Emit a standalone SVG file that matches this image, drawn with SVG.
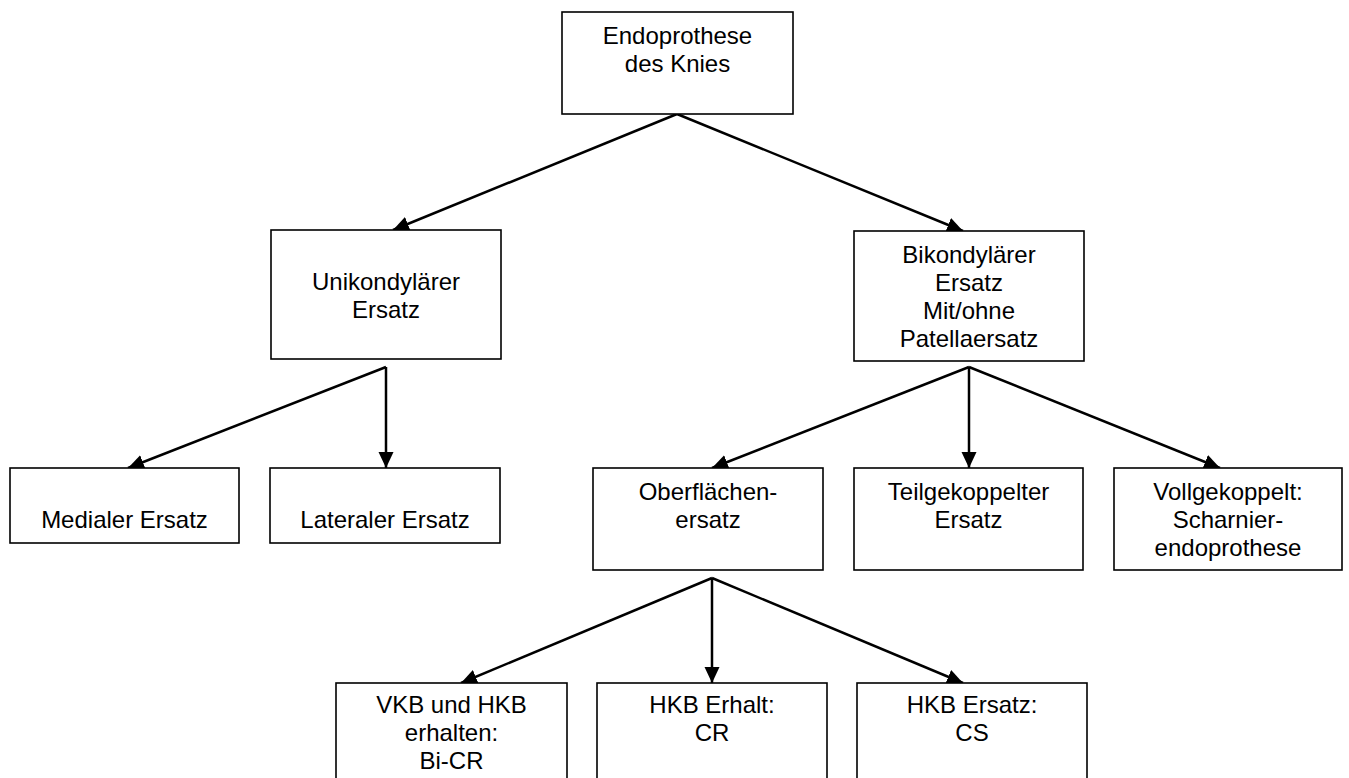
<svg xmlns="http://www.w3.org/2000/svg" width="1349" height="778" viewBox="0 0 1349 778">
<style>
.box{fill:#fff;stroke:#000;stroke-width:1.6}
.t{font-family:"Liberation Sans",Arial,sans-serif;font-size:24px;fill:#000;text-anchor:middle}
.c{stroke:#000;stroke-width:2.5;fill:none;marker-end:url(#ah)}
</style>
<defs>
<marker id="ah" markerUnits="userSpaceOnUse" markerWidth="17" markerHeight="17" viewBox="0 0 17 17" refX="16" refY="8.5" orient="auto">
<path d="M0,1 L16,8.5 L0,16 Z" fill="#000"/>
</marker>
</defs>
<rect width="1349" height="778" fill="#fff"/>
<g id="connectors">
<path class="c" d="M677,114 L393,230"/>
<path class="c" d="M677,114 L963,231"/>
<path class="c" d="M386,367 L128,468"/>
<path class="c" d="M386,367 L386,468"/>
<path class="c" d="M969,367 L712,468"/>
<path class="c" d="M969,367 L969,468"/>
<path class="c" d="M969,367 L1220,468"/>
<path class="c" d="M712,578 L461,683"/>
<path class="c" d="M712,578 L712,683"/>
<path class="c" d="M712,578 L963,683"/>
</g>
<g id="n-root"><rect class="box" x="562" y="12" width="231" height="102"/><text class="t" x="677.5" y="44">Endoprothese</text><text class="t" x="677.5" y="72">des Knies</text></g>
<g id="n-uni"><rect class="box" x="271" y="230" width="230" height="129"/><text class="t" x="386" y="290">Unikondylärer</text><text class="t" x="386" y="318">Ersatz</text></g>
<g id="n-bi"><rect class="box" x="854" y="231" width="230" height="130"/><text class="t" x="969" y="263">Bikondylärer</text><text class="t" x="969" y="291">Ersatz</text><text class="t" x="969" y="319">Mit/ohne</text><text class="t" x="969" y="347">Patellaersatz</text></g>
<g id="n-med"><rect class="box" x="10" y="468" width="229" height="75"/><text class="t" x="124.5" y="528">Medialer Ersatz</text></g>
<g id="n-lat"><rect class="box" x="270" y="468" width="230" height="75"/><text class="t" x="385" y="528">Lateraler Ersatz</text></g>
<g id="n-ober"><rect class="box" x="593" y="468" width="230" height="102"/><text class="t" x="708" y="500">Oberflächen-</text><text class="t" x="708" y="528">ersatz</text></g>
<g id="n-teil"><rect class="box" x="854" y="468" width="229" height="102"/><text class="t" x="968.5" y="500">Teilgekoppelter</text><text class="t" x="968.5" y="528">Ersatz</text></g>
<g id="n-voll"><rect class="box" x="1114" y="468" width="228" height="102"/><text class="t" x="1228" y="500">Vollgekoppelt:</text><text class="t" x="1228" y="528">Scharnier-</text><text class="t" x="1228" y="556">endoprothese</text></g>
<g id="n-vkb"><rect class="box" x="336" y="683" width="231" height="110"/><text class="t" x="451.5" y="713">VKB und HKB</text><text class="t" x="451.5" y="741">erhalten:</text><text class="t" x="451.5" y="769">Bi-CR</text></g>
<g id="n-cr"><rect class="box" x="597" y="683" width="230" height="110"/><text class="t" x="712" y="713">HKB Erhalt:</text><text class="t" x="712" y="741">CR</text></g>
<g id="n-cs"><rect class="box" x="857" y="683" width="230" height="110"/><text class="t" x="972" y="713">HKB Ersatz:</text><text class="t" x="972" y="741">CS</text></g>
</svg>
